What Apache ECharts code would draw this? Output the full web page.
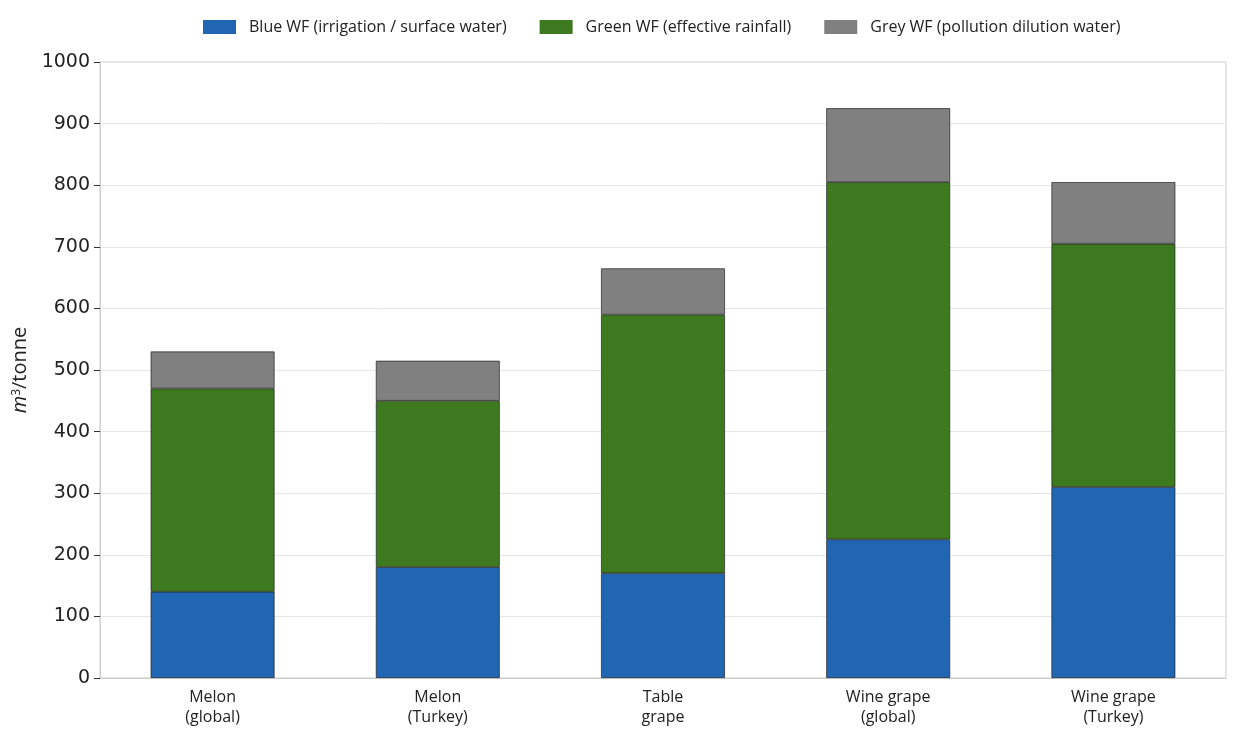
<!DOCTYPE html>
<html><head><meta charset="utf-8">
<script src="https://cdn.jsdelivr.net/npm/echarts@6/dist/echarts.min.js"></script>
<style>html,body{margin:0;padding:0;background:#fff}#c{width:1239px;height:739px}</style>
</head><body><div id="c"></div>
<script>
const categories = ['Melon\n(global)', 'Melon\n(Turkey)', 'Table\ngrape', 'Wine grape\n(global)', 'Wine grape\n(Turkey)'];
const blueWF = [140, 180, 170, 225, 310];
const greenWF = [330, 270, 420, 580, 395];
const greyWF = [60, 65, 75, 120, 100];
const seriesNames = ['Blue WF (irrigation / surface water)', 'Green WF (effective rainfall)', 'Grey WF (pollution dilution water)'];
const colors = ['#2166b2', '#3d7a1f', '#808080'];

const chart = echarts.init(document.getElementById('c'));
const font = 'Open Sans, sans-serif';
const mk = (name, data, color) => ({
  name, type: 'bar', stack: 'wf', data, barWidth: '55%',
  itemStyle: { color, borderColor: '#222', borderWidth: 0.7 }
});
chart.setOption({
  animation: false,
  textStyle: { fontFamily: font },
  legend: {
    top: 14, left: 198, itemWidth: 33, itemHeight: 14, itemGap: 33, icon: 'rect',
    itemStyle: { borderWidth: 0 },
    textStyle: { fontSize: 16, color: '#222', fontFamily: font, padding: [0, 0, 0, 8] },
    data: seriesNames
  },
  grid: { left: 100, right: 13, top: 62, bottom: 61, show: true, borderColor: '#ccc', borderWidth: 1 },
  xAxis: {
    type: 'category', data: categories,
    axisLine: { lineStyle: { color: '#ccc' } },
    axisTick: { alignWithLabel: true, length: 6, lineStyle: { color: '#333' } },
    axisLabel: { fontSize: 16, color: '#222', lineHeight: 20, margin: 9 }
  },
  yAxis: {
    type: 'value', min: 0, max: 1000, interval: 100,
    name: '{i|m}{s|3}{n|/tonne}', nameLocation: 'middle', nameRotate: 90, nameGap: 60,
    nameTextStyle: { rich: {
      i: { fontStyle: 'italic', fontSize: 20, color: '#222', fontFamily: font },
      s: { fontSize: 12, color: '#222', verticalAlign: 'top', padding: [0, 0, 9, 0], fontFamily: font },
      n: { fontSize: 20, color: '#222', fontFamily: font }
    } },
    axisLine: { show: true, lineStyle: { color: '#ccc' } },
    axisTick: { show: true, length: 6, lineStyle: { color: '#333' } },
    axisLabel: { fontSize: 19, color: '#222', margin: 10, fontFamily: 'DejaVu Sans, sans-serif', formatter: v => String(v) },
    splitLine: { lineStyle: { color: '#e6e6e6' } }
  },
  series: [
    mk(seriesNames[0], blueWF, colors[0]),
    mk(seriesNames[1], greenWF, colors[1]),
    mk(seriesNames[2], greyWF, colors[2])
  ]
});
</script></body></html>
